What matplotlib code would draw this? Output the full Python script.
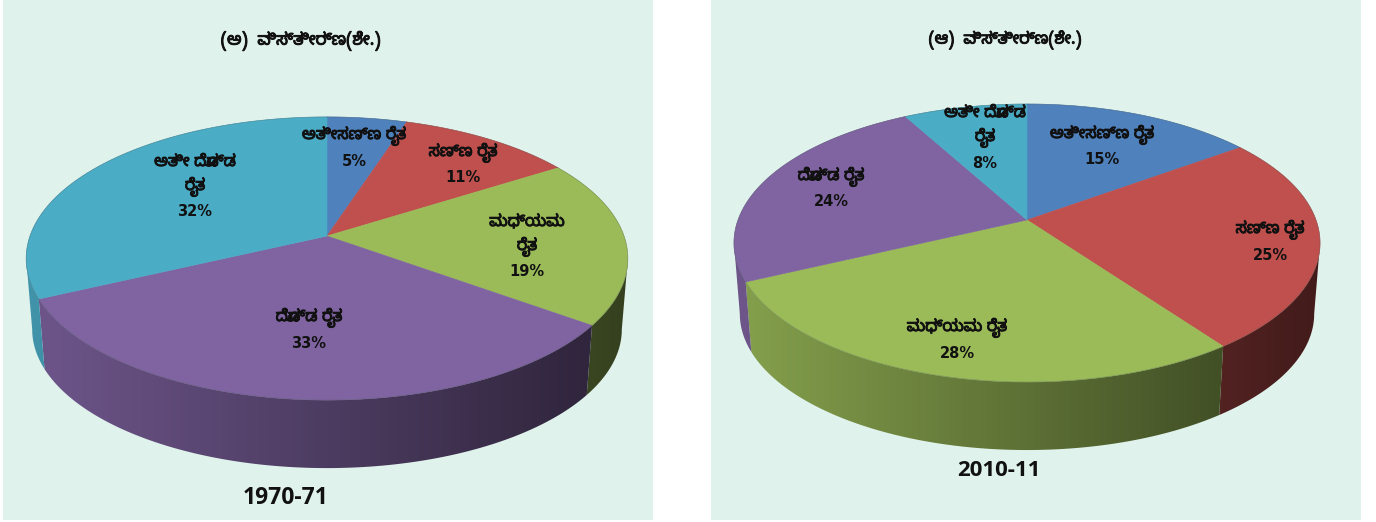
import numpy as np
import matplotlib
matplotlib.use("Agg")
import matplotlib.pyplot as plt
import matplotlib.patheffects as pe
from matplotlib.patches import Polygon, Rectangle

KN_FONT = ['Noto Sans Kannada', 'DejaVu Sans']

categories_1970 = ["ಅತೀಸಣ್ಣ ರೈತ", "ಸಣ್ಣ ರೈತ", "ಮಧ್ಯಮ\nರೈತ", "ದೊಡ್ಡ ರೈತ", "ಅತೀ ದೊಡ್ಡ\nರೈತ"]
categories_2010 = ["ಅತೀಸಣ್ಣ ರೈತ", "ಸಣ್ಣ ರೈತ", "ಮಧ್ಯಮ ರೈತ", "ದೊಡ್ಡ ರೈತ", "ಅತೀ ದೊಡ್ಡ\nರೈತ"]
values_1970 = [5, 11, 19, 33, 32]
values_2010 = [15, 25, 28, 24, 8]
colors = ["#4f81bd", "#c0504d", "#9bbb59", "#8064a2", "#4bacc6"]
title_1970 = "(ಅ)  ವಿಸ್ತೀರ್ಣ(ಶೇ.)"
title_2010 = "(ಆ)  ವಿಸ್ತೀರ್ಣ(ಶೇ.)"
year_1970 = "1970-71"
year_2010 = "2010-11"


# top surface point for clockwise angle from 12 o'clock
def project(theta, pie, bottom=False):
    X, Y = np.sin(theta), np.cos(theta)
    d = 1 + pie["k"] * Y
    x = pie["a"] * X / d
    y = pie["b"] * Y / d
    if bottom:
        s = pie["shrink"]
        return pie["cx"] + x * s, pie["cy"] - y * s + pie["depth"] + pie["down"] * (1 - s)
    return pie["cx"] + x, pie["cy"] - y


def draw_pie(ax, values, pie):
    edges = np.cumsum([0] + values) / sum(values) * 2 * np.pi
    vis_lo = np.arccos(-pie["k"])
    vis_hi = 2 * np.pi - vis_lo
    x_left, x_right = pie["cx"] - pie["width"], pie["cx"] + pie["width"]
    y_top, y_bot = pie["cy"], pie["cy"] + pie["down"] + pie["depth"] + 2
    ramp = np.linspace(0.86, 0.34, 256)[None, :, None]

    for t0, t1, col in zip(edges[:-1], edges[1:], colors):
        lo, hi = max(t0, vis_lo), min(t1, vis_hi)
        if hi <= lo:
            continue
        th = np.linspace(lo, hi, 120)
        xt, yt = project(th, pie)
        xb, yb = project(th, pie, bottom=True)
        side = Polygon(np.column_stack([np.r_[xt, xb[::-1]], np.r_[yt, yb[::-1]]]),
                       closed=True, transform=ax.transData, fc="none", ec="none")
        ax.add_patch(side)
        rgb = np.array(matplotlib.colors.to_rgb(col))[None, None, :]
        im = ax.imshow(rgb * ramp, extent=[x_left, x_right, y_bot, y_top],
                       aspect="auto", interpolation="bilinear", zorder=2)
        im.set_clip_path(side)

    for t0, t1, col in zip(edges[:-1], edges[1:], colors):
        th = np.linspace(t0, t1, 200)
        xt, yt = project(th, pie)
        ax.fill(np.r_[pie["cx"], xt], np.r_[pie["cy"], yt], color=col, lw=0.4, zorder=3)
        ax.plot(xt, yt, color="#3c4a4a", lw=0.5, alpha=0.35, zorder=4)


def kn_text(ax, x, y, s, size=11.5):
    t = ax.text(x, y, s, ha="center", va="center", family=KN_FONT, fontsize=size,
                color="#111111", zorder=5)
    t.set_path_effects([pe.withStroke(linewidth=0.7, foreground="#111111")])


def put_labels(ax, categories, values, spots):
    for cat, val, (x, y) in zip(categories, values, spots):
        lines = cat.split("\n")
        for i, line in enumerate(lines):
            kn_text(ax, x, y + i * 25, line)
        ax.text(x, y + len(lines) * 25, f"{val}%", ha="center", va="center",
                family="DejaVu Sans", fontsize=10.5, fontweight="bold",
                color="#111111", zorder=5)


fig = plt.figure(figsize=(13.76, 5.22), dpi=100)
ax = fig.add_axes([0, 0, 1, 1])

ax.add_patch(Rectangle((3, 0), 650, 520, fc="#e0f2ec", ec="none", zorder=0))
ax.add_patch(Rectangle((711, 0), 650, 520, fc="#e0f2ec", ec="none", zorder=0))

pie_left = dict(cx=327, cy=236, a=297, b=138, k=0.159, width=301, down=164,
                depth=68, shrink=0.98)
pie_right = dict(cx=1027, cy=220, a=289, b=135.2, k=0.1656, width=293, down=162,
                 depth=68, shrink=0.98)
draw_pie(ax, values_1970, pie_left)
draw_pie(ax, values_2010, pie_right)

put_labels(ax, categories_1970, values_1970,
           [(354, 136), (463, 153), (527, 222), (309, 318), (195, 162)])
put_labels(ax, categories_2010, values_2010,
           [(1102, 135), (1270, 230), (957, 328), (831, 177), (985, 113)])

kn_text(ax, 301, 41, title_1970, size=12)
kn_text(ax, 1005, 40, title_2010, size=11.5)
ax.text(286, 498, year_1970, ha="center", va="center", family="Open Sans", fontsize=16.5,
        fontweight="bold", color="#111111", zorder=5)
ax.text(999, 471, year_2010, ha="center", va="center", family="Open Sans", fontsize=16,
        fontweight="bold", color="#111111", zorder=5)

ax.set_xlim(0, 1376)
ax.set_ylim(522, 0)
ax.axis("off")
fig.savefig("out.png", dpi=100, facecolor="white")
